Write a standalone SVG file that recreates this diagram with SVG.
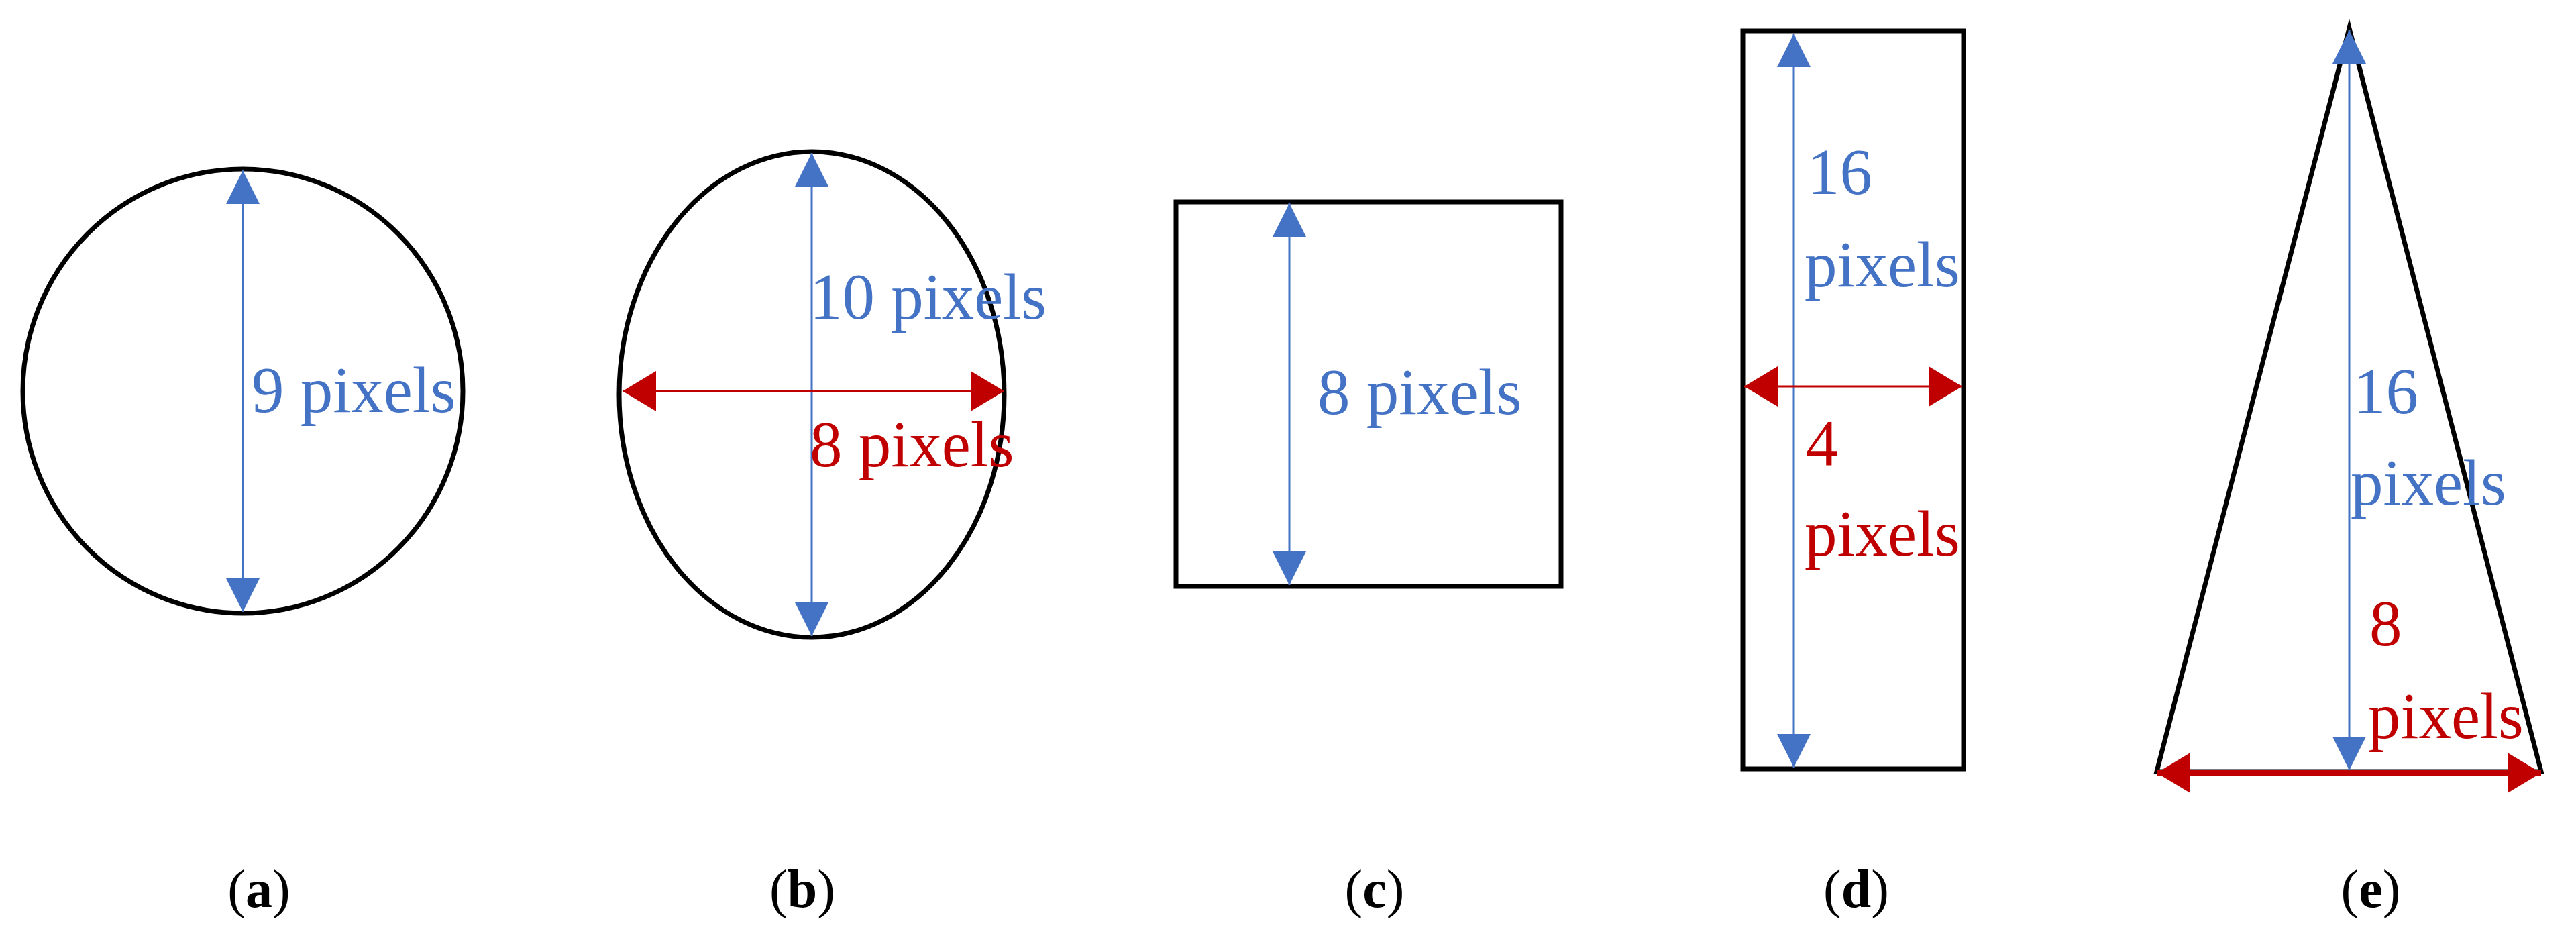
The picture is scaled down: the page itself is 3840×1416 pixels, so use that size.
<svg xmlns="http://www.w3.org/2000/svg" width="3840" height="1416" viewBox="0 0 3840 1416">
<style>
.sh{fill:none;stroke:#000;stroke-width:7}
.b{stroke:#4472C4;stroke-width:3;fill:none;marker-start:url(#ab);marker-end:url(#ab)}
.r{stroke:#C00000;stroke-width:3;fill:none;marker-start:url(#ar);marker-end:url(#ar)}
.tb{font-family:"Liberation Serif",serif;font-size:97px;fill:#4472C4}
.tr{font-family:"Liberation Serif",serif;font-size:97px;fill:#C00000}
.cap{font-family:"Liberation Serif",serif;font-size:80px;fill:#000;text-anchor:middle}
</style>
<defs>
<marker id="ab" markerUnits="userSpaceOnUse" markerWidth="50" markerHeight="50" refX="50" refY="25" orient="auto-start-reverse" viewBox="0 0 50 50"><path d="M0,0L50,25L0,50z" fill="#4472C4"/></marker>
<marker id="ar" markerUnits="userSpaceOnUse" markerWidth="50" markerHeight="60" refX="50" refY="30" orient="auto-start-reverse" viewBox="0 0 50 60"><path d="M0,0L50,30L0,60z" fill="#C00000"/></marker>
</defs>
<rect width="3840" height="1416" fill="#fff"/>
<g id="a"><ellipse class="sh" cx="362" cy="583" rx="328" ry="331"/></g>
<g id="b"><ellipse class="sh" cx="1210" cy="588" rx="287" ry="362"/></g>
<g id="c"><rect class="sh" x="1753" y="301" width="574" height="573"/></g>
<g id="d"><rect class="sh" x="2598" y="46" width="329" height="1100"/></g>
<g id="e"><path class="sh" d="M3502,42L3215,1150L3788,1150z"/></g>
<g id="connectors">
<line class="b" x1="362" y1="254" x2="362" y2="912"/>
<line class="b" x1="1210" y1="228" x2="1210" y2="948"/>
<line class="r" x1="928" y1="583" x2="1497" y2="583"/>
<line class="b" x1="1922" y1="303" x2="1922" y2="872"/>
<line class="b" x1="2674" y1="50" x2="2674" y2="1144"/>
<line class="r" x1="2600" y1="576" x2="2925" y2="576"/>
<line class="b" x1="3502" y1="45" x2="3502" y2="1148"/>
<line class="r" style="stroke-width:8" x1="3215" y1="1152" x2="3788" y2="1152"/>
</g>
<g id="labels">
<text class="tb" x="375" y="614">9 pixels</text>
<text class="tb" x="1207" y="475">10 pixels</text>
<text class="tr" x="1207" y="695">8 pixels</text>
<text class="tb" x="1964" y="617">8 pixels</text>
<text class="tb" x="2694" y="289">16</text>
<text class="tb" x="2690" y="427">pixels</text>
<text class="tr" x="2692" y="693">4</text>
<text class="tr" x="2690" y="828">pixels</text>
<text class="tb" x="3508" y="616">16</text>
<text class="tb" x="3504" y="752">pixels</text>
<text class="tr" x="3532" y="962">8</text>
<text class="tr" x="3530" y="1100">pixels</text>
<text class="cap" x="386" y="1352">(<tspan font-weight="bold">a</tspan>)</text>
<text class="cap" x="1196" y="1352">(<tspan font-weight="bold">b</tspan>)</text>
<text class="cap" x="2049" y="1352">(<tspan font-weight="bold">c</tspan>)</text>
<text class="cap" x="2767" y="1352">(<tspan font-weight="bold">d</tspan>)</text>
<text class="cap" x="3534" y="1352">(<tspan font-weight="bold">e</tspan>)</text>
</g>
</svg>
